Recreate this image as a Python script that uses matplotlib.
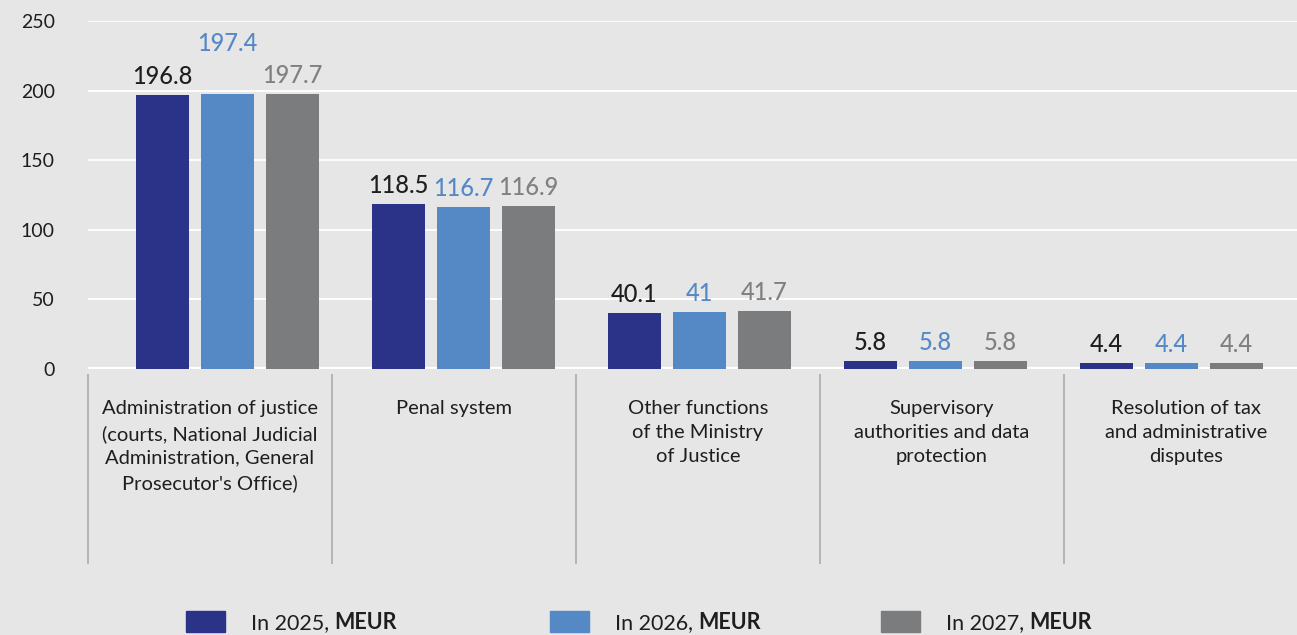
import numpy as np
import matplotlib
matplotlib.use("Agg")
import matplotlib.pyplot as plt
from matplotlib.patches import Rectangle

# data
categories = [
    "Administration of justice\n(courts, National Judicial\nAdministration, General\nProsecutor's Office)",
    "Penal system",
    "Other functions\nof the Ministry\nof Justice",
    "Supervisory\nauthorities and data\nprotection",
    "Resolution of tax\nand administrative\ndisputes",
]
v2025 = [196.8, 118.5, 40.1, 5.8, 4.4]
v2026 = [197.4, 116.7, 41, 5.8, 4.4]
v2027 = [197.7, 116.9, 41.7, 5.8, 4.4]
years = ["2025", "2026", "2027"]

c_dark = "#2b3388"
c_light = "#5589c6"
c_gray = "#7b7c7e"
lbl_colors = ["#1e1e1e", "#5589c6", "#808080"]
bg = "#e6e6e6"

plt.rcParams['font.family'] = ['Lato', 'DejaVu Sans']

W, H = 1297, 635
fig = plt.figure(figsize=(W / 100, H / 100), dpi=100, facecolor=bg)
ax = fig.add_axes([88 / W, (H - 369) / H, (W - 88) / W, 348 / H])
ax.set_facecolor(bg)

grp = 244.0
xmax = (W - 88) / grp
ax.set_xlim(0, xmax)
ax.set_ylim(0, 250)

# bar positions (group units)
n = len(categories)
mid = 0.572 + np.arange(n) * 0.967
bw = 53 / grp
step = 65 / grp

series = [v2025, v2026, v2027]
colors = [c_dark, c_light, c_gray]
extra = {(1, 0): 23}  # 197.4 label sits higher in the original
for k, (vals, col) in enumerate(zip(series, colors)):
    xs = mid + (k - 1) * step
    ax.bar(xs, vals, width=bw, color=col, zorder=3)
    for i, (x, v) in enumerate(zip(xs, vals)):
        lab = f"{v:g}"
        ax.annotate(lab, (x, v), xytext=(0, 5 + extra.get((k, i), 0)),
                    textcoords="offset points", ha="center", va="bottom",
                    fontsize=17, color=lbl_colors[k], fontweight="medium",
                    zorder=4)

ax.set_yticks([0, 50, 100, 150, 200, 250])
ax.grid(axis="y", color="white", linewidth=1.3, zorder=0)
ax.axhline(0, color="white", linewidth=3, zorder=2)
ax.set_xticks([])
ax.tick_params(axis="y", length=0, pad=24, labelsize=14, labelcolor="#1e1e1e")
for s in ax.spines.values():
    s.set_visible(False)

# separators and category labels below the axis
trans = ax.get_xaxis_transform()
for i in range(n + 1):
    ax.plot([i, i], [-0.017, -0.557], transform=trans, color="#b4b4b4",
            linewidth=1.4, clip_on=False)
for i, cat in enumerate(categories):
    ax.text(i + 0.5, -0.09, cat, transform=trans, ha="center", va="top",
            fontsize=14.5, color="#1e1e1e", linespacing=1.5)

# legend drawn by hand
leg_x = [186, 550, 881]
for x, col, yr in zip(leg_x, colors, years):
    fig.add_artist(Rectangle((x / W, 3 / H), 39 / W, 21 / H,
                             transform=fig.transFigure, color=col))
    t1 = fig.text((x + 65) / W, 6 / H, f"In {yr}, ", fontsize=15.5,
                  color="#1e1e1e", va="baseline")
    ax.annotate("MEUR", xy=(1, 0), xycoords=t1, va="bottom", fontsize=15.5,
                fontweight="bold", color="#1e1e1e", annotation_clip=False)

fig.savefig("out.png", dpi=100, facecolor=bg)
